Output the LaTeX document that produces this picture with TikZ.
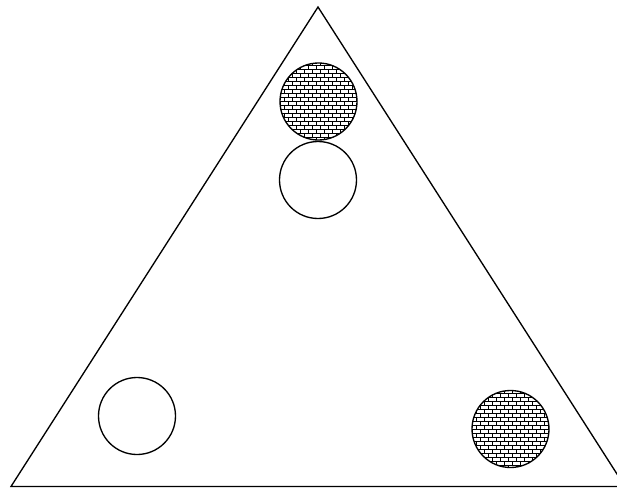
\documentclass[tikz,border=0pt]{standalone}
\usetikzlibrary{patterns}
\pgfdeclarepatternformonly{smallbricks}{\pgfqpoint{-0.5pt}{-0.5pt}}{\pgfqpoint{6.5pt}{6.5pt}}{\pgfqpoint{6pt}{6pt}}
{
  \pgfsetlinewidth{0.55pt}
  \pgfpathmoveto{\pgfqpoint{-0.5pt}{0pt}}
  \pgfpathlineto{\pgfqpoint{6.5pt}{0pt}}
  \pgfpathmoveto{\pgfqpoint{-0.5pt}{3pt}}
  \pgfpathlineto{\pgfqpoint{6.5pt}{3pt}}
  \pgfpathmoveto{\pgfqpoint{0pt}{0pt}}
  \pgfpathlineto{\pgfqpoint{0pt}{3pt}}
  \pgfpathmoveto{\pgfqpoint{3pt}{3pt}}
  \pgfpathlineto{\pgfqpoint{3pt}{6pt}}
  \pgfusepath{stroke}
}
\begin{document}
\begin{tikzpicture}[x=0.75pt,y=-0.75pt,
  ball/.style={circle,draw=black,line width=1pt,minimum size=57.75pt,inner sep=0pt,fill=white},
  brickball/.style={ball,pattern=smallbricks,pattern color=black},
  edge/.style={line width=1pt,line join=miter}]
\fill[white] (0,0) rectangle (617,489);
\useasboundingbox (0,0) rectangle (617,489);
\begin{scope}
\clip (0,0) rectangle (617,489);
\coordinate (A) at (318,7);
\coordinate (B) at (11,486.5);
\coordinate (C) at (625,486.5);
\draw[edge] (A) -- (B) -- (C) -- cycle;
\end{scope}
\node[brickball] (p1) at (318.5,101.5) {};
\node[ball] (e1) at (318,180) {};
\node[ball] (e2) at (137,416) {};
\node[brickball] (p2) at (510.5,429) {};
\end{tikzpicture}
\end{document}
